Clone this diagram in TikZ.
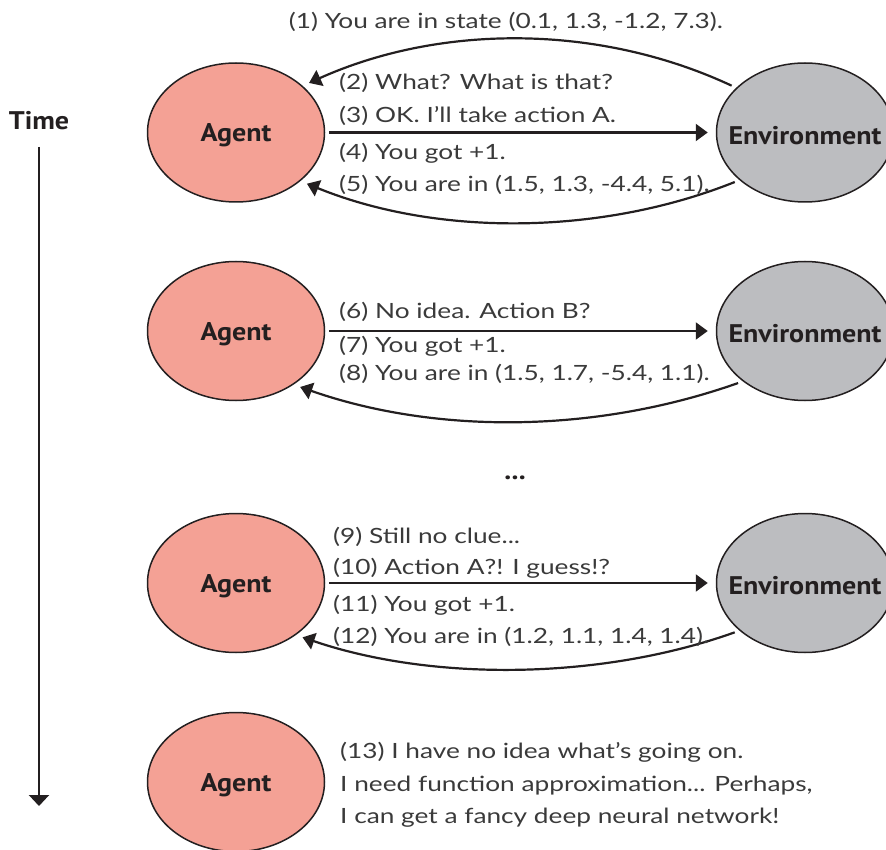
\documentclass[tikz,border=0pt]{standalone}
\usepackage{fontspec}
\setmainfont{Lato}[FakeStretch=1.25]
\newfontfamily\labelfont{PT Sans}[FakeStretch=1.1]
\usetikzlibrary{shapes.geometric,arrows.meta}

\definecolor{linec}{HTML}{231F20}
\definecolor{sayc}{HTML}{3A3A3A}
\definecolor{agentfill}{HTML}{F4A195}
\definecolor{envfill}{HTML}{BCBDC0}

\tikzset{
  agentnode/.style={ellipse, draw=linec, line width=1.5pt, fill=agentfill,
    minimum width=177pt, minimum height=139pt, inner sep=0pt},
  envnode/.style={agentnode, fill=envfill},
  big/.style={font=\labelfont\bfseries\fontsize{25.5}{30}\selectfont, text=linec, inner sep=0pt},
  inlabel/.style={big, yshift=-3pt},
  say/.style={font=\fontsize{21}{25}\selectfont, text=sayc, anchor=base west, inner sep=0pt},
  flow/.style={draw=linec, line width=2.2pt, -{Triangle[length=12pt,width=17pt]},
    shorten <=4pt, shorten >=8pt},
  reply/.style={flow, shorten <=5pt, shorten >=7pt},
}

\begin{document}
\begin{tikzpicture}[x=1pt,y=-1pt]
\useasboundingbox (0,0) rectangle (886,850);

% time axis
\node[big] (time) at (39,121) {Time};
\coordinate (tstart) at (39,147);
\coordinate (tend) at (39,806);
\draw[draw=linec, line width=2.2pt, -{Triangle[length=11pt,width=20pt]}] (tstart) -- (tend);

% step 1
\node[agentnode, label={[inlabel]center:Agent}] (a1) at (236,132.5) {};
\node[envnode, label={[inlabel]center:Environment}] (e1) at (805,132.5) {};
\draw[reply] (e1.147) .. controls +(-137,-64) and +(138,-62) .. (a1.35);
\draw[flow] (a1.east) -- (e1.west);
\draw[reply] (e1.216) .. controls +(-140,56) and +(135,55) .. (a1.323);
\node[say, anchor=base] (t1) at (506,29) {(1) You are in state (0.1, 1.3, -1.2, 7.3).};
\node[say] (t2) at (339,90) {(2) What? What is that?};
\node[say] (t3) at (339,123) {(3) OK. I'll take action A.};
\node[say] (t4) at (339,160) {(4) You got +1.};
\node[say] (t5) at (339,192) {(5) You are in (1.5, 1.3, -4.4, 5.1).};

% step 2
\node[agentnode, label={[inlabel]center:Agent}] (a2) at (236,331) {};
\node[envnode, label={[inlabel]center:Environment}] (e2) at (805,331) {};
\draw[flow] (a2.east) -- (e2.west);
\draw[reply] (e2.219) .. controls +(-150,53) and +(140,49) .. (a2.317);
\node[say] (t6) at (339,319) {(6) No idea. Action B?};
\node[say] (t7) at (339,352) {(7) You got +1.};
\node[say] (t8) at (339,380) {(8) You are in (1.5, 1.7, -5.4, 1.1).};

\node[big] (dots) at (515,478) {...};

% step 3
\node[agentnode, label={[inlabel]center:Agent}] (a3) at (236,583) {};
\node[envnode, label={[inlabel]center:Environment}] (e3) at (805,583) {};
\draw[flow] (a3.east) -- (e3.west);
\draw[reply] (e3.216) .. controls +(-140,50) and +(135,46) .. (a3.319);
\node[say] (t9) at (333,543) {(9) Still no clue...};
\node[say] (t10) at (333,574) {(10) Action A?! I guess!?};
\node[say] (t11) at (333,611) {(11) You got +1.};
\node[say] (t12) at (333,643) {(12) You are in (1.2, 1.1, 1.4, 1.4).};

% step 4
\node[agentnode, label={[inlabel]center:Agent}] (a4) at (236,782) {};
\node[say] (t13) at (340,758) {(13) I have no idea what's going on.};
\node[say] (t14) at (340,791) {I need function approximation... Perhaps,};
\node[say] (t15) at (340,823) {I can get a fancy deep neural network!};
\end{tikzpicture}
\end{document}
